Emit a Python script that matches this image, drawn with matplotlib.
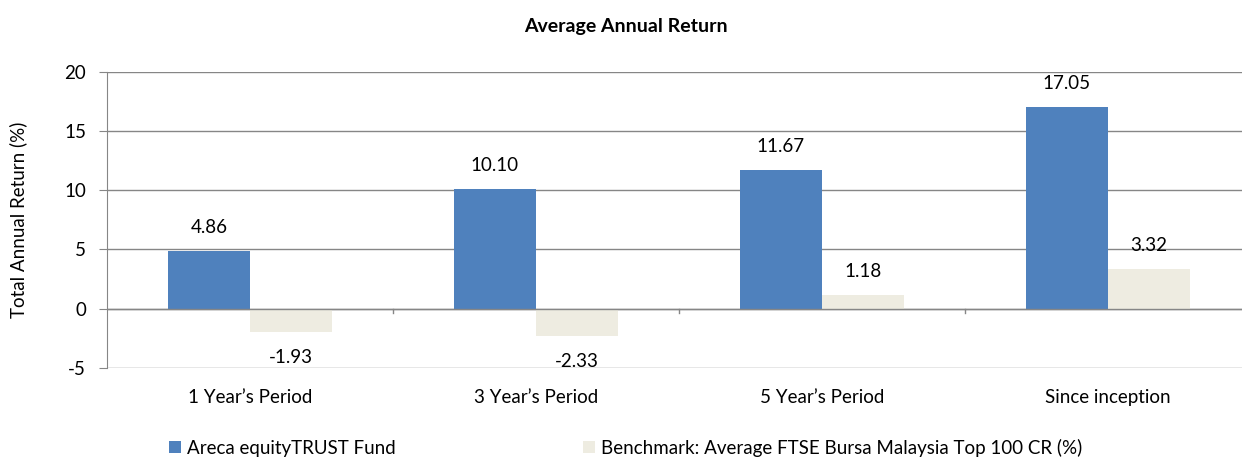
import numpy as np
import matplotlib.pyplot as plt

plt.rcParams['font.family'] = ['Lato', 'DejaVu Sans']
plt.rcParams['axes.unicode_minus'] = False

categories = ["1 Year\u2019s Period", "3 Year\u2019s Period", "5 Year\u2019s Period", "Since inception"]
fund = [4.86, 10.10, 11.67, 17.05]
benchmark = [-1.93, -2.33, 1.18, 3.32]
fund_name = "Areca equityTRUST Fund"
bench_name = "Benchmark: Average FTSE Bursa Malaysia Top 100 CR (%)"

fig = plt.figure(figsize=(12.42, 4.57), dpi=100)
ax = fig.add_axes([0.0862, 0.195, 0.921, 0.648])

x = np.arange(len(categories))
w = 0.287
b1 = ax.bar(x - w / 2, fund, w, color='#4F81BD', zorder=3)
b2 = ax.bar(x + w / 2, benchmark, w, color='#EEECE1', zorder=3)

fs = 13.5
for rect, v in zip(b1, fund):
    ax.annotate("%.2f" % v, (rect.get_x() + rect.get_width() / 2, v),
                xytext=(0, 17), textcoords='offset points', ha='center', va='center', fontsize=fs)
for rect, v in zip(b2, benchmark):
    off = 17 if v > 0 else -18.5
    ax.annotate("%.2f" % v, (rect.get_x() + rect.get_width() / 2, v),
                xytext=(0, off), textcoords='offset points', ha='center', va='center', fontsize=fs)

ax.set_xlim(-0.5, len(categories) - 0.5)
ax.set_ylim(-5, 20)
ax.set_yticks([-5, 0, 5, 10, 15, 20])
ax.yaxis.grid(True, color='#868686', linewidth=1, zorder=0)
ax.tick_params(axis='y', length=6, color='#868686', labelsize=fs, pad=9)
ax.set_xticks(x)
ax.set_xticklabels(categories, fontsize=fs)
ax.tick_params(axis='x', length=0, pad=15)
for xs in x[:-1] + 0.5:
    ax.plot([xs, xs], [0, -0.35], color='#868686', linewidth=1, zorder=2, clip_on=False)
ax.axhline(0, color='#868686', linewidth=1, zorder=4)
for s in ['top', 'right', 'bottom']:
    ax.spines[s].set_visible(False)
ax.spines['left'].set_color('#868686')
ax.set_ylabel("Total Annual Return (%)", fontsize=fs, labelpad=27)
fig.text(0.504, 0.943, "Average Annual Return", fontsize=14, fontweight='bold', ha='center', va='center')

fig.legend([b1, b2], [fund_name, bench_name], loc='center left', bbox_to_anchor=(0.1224, 0.02),
           ncol=2, frameon=False, fontsize=fs, handlelength=0.64, handleheight=0.64,
           handletextpad=0.32, columnspacing=10)

fig.savefig("out.png", dpi=100)
